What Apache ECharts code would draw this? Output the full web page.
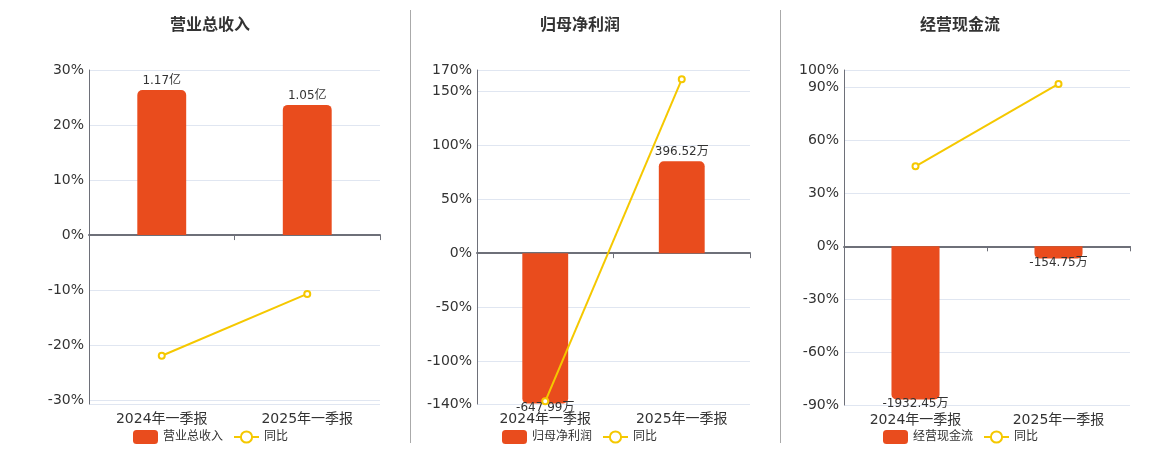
<!DOCTYPE html>
<html>
<head>
<meta charset="utf-8">
<style>
html,body{margin:0;padding:0;background:#fff;}
#c{width:1160px;height:450px;}
</style>
<script src="https://cdn.jsdelivr.net/npm/echarts@6/dist/echarts.min.js"></script>
</head>
<body>
<div id="c"></div>
<script>
const categories = ['2024年一季报', '2025年一季报'];
const titles = ['营业总收入', '归母净利润', '经营现金流'];
const revenue = [1.17, 1.05];            // 亿
const netProfit = [-647.99, 396.52];     // 万
const cashFlow = [-1932.45, -154.75];    // 万
const revenueYoY = [-21.93, -10.7];      // %
const netProfitYoY = [-137.5, 161.4];    // %
const cashFlowYoY = [45.4, 92.1];        // %
const units = ['亿', '万', '万'];
const pctMin = [-30.7, -140, -90];
const pctMax = [30, 170, 100];
const barMax = [1.3314, 790, 2225];

const barSeries = [revenue, netProfit, cashFlow];
const yoySeries = [revenueYoY, netProfitYoY, cashFlowYoY];

const FONT = "'DejaVu Sans', 'Noto Sans CJK SC', sans-serif";
const BAR_COLOR = '#E94C1D';
const LINE_COLOR = '#F5C800';
const AXIS_COLOR = '#6E7079';

const grids = [
  {left: 89, right: 780, top: 70, bottom: 46},
  {left: 477, right: 410, top: 70, bottom: 46},
  {left: 844, right: 30, top: 70, bottom: 45}
];
const centers = [205, 575, 955];
const legendLeft = [128, 497, 878];

const option = {
  animation: false,
  textStyle: {fontFamily: FONT},
  title: [], grid: [], xAxis: [], yAxis: [], series: [], legend: [],
  graphic: [
    {type: 'line', shape: {x1: 410.5, y1: 10, x2: 410.5, y2: 443}, style: {stroke: '#AAAAAA', lineWidth: 1}},
    {type: 'line', shape: {x1: 780.5, y1: 10, x2: 780.5, y2: 443}, style: {stroke: '#AAAAAA', lineWidth: 1}}
  ]
};

for (let i = 0; i < 3; i++) {
  option.title.push({
    text: titles[i], left: centers[i], top: 13, textAlign: 'center',
    textStyle: {fontSize: 16, fontWeight: 'bold', color: '#333', fontFamily: FONT}
  });
  option.grid.push(Object.assign({containLabel: false}, grids[i]));
  // labels axis at bottom
  option.xAxis.push({
    type: 'category', gridIndex: i, data: categories, position: 'bottom',
    axisLine: {show: false, onZero: false}, axisTick: {show: false},
    axisLabel: {fontSize: 14, color: '#333', margin: 8, fontFamily: FONT},
    splitLine: {show: false}
  });
  // zero line axis
  option.xAxis.push({
    type: 'category', gridIndex: i, data: categories, position: 'top',
    axisLine: {show: true, onZero: true, lineStyle: {color: AXIS_COLOR, width: 2}},
    axisTick: {show: true, inside: true, length: 5, lineStyle: {color: AXIS_COLOR}},
    axisLabel: {show: false}, splitLine: {show: false}
  });
  // percent axis
  option.yAxis.push({
    type: 'value', gridIndex: i, position: 'left', min: pctMin[i], max: pctMax[i],
    axisLine: {show: true, lineStyle: {color: AXIS_COLOR, width: 1}},
    axisTick: {show: false},
    axisLabel: {fontSize: 14, color: '#333', margin: 5, fontFamily: FONT,
      formatter: v => Number.isInteger(Math.round(v * 1000) / 1000) ? Math.round(v) + '%' : ''},
    splitLine: {show: true, lineStyle: {color: '#E0E6F1'}}
  });
  // hidden bar axis with zero aligned
  option.yAxis.push({
    type: 'value', gridIndex: i, position: 'right', show: false,
    max: barMax[i], min: barMax[i] * pctMin[i] / pctMax[i],
    splitLine: {show: false}
  });
  const unit = units[i];
  option.series.push({
    name: titles[i], type: 'bar', xAxisIndex: i * 2, yAxisIndex: i * 2 + 1,
    barWidth: '33.6%', itemStyle: {color: BAR_COLOR},
    data: barSeries[i].map(v => ({
      value: v,
      itemStyle: {borderRadius: v >= 0 ? [5, 5, 0, 0] : [0, 0, 5, 5]},
      label: {position: v >= 0 ? 'top' : 'bottom', distance: v >= 0 ? 3 : -2}
    })),
    label: {show: true, fontSize: 12, color: '#333', fontFamily: FONT,
      formatter: p => p.value.toFixed(2) + unit}
  });
  option.series.push({
    name: '同比', type: 'line', xAxisIndex: i * 2, yAxisIndex: i * 2,
    data: yoySeries[i], symbol: 'emptyCircle', symbolSize: 6,
    lineStyle: {color: LINE_COLOR, width: 2},
    itemStyle: {color: LINE_COLOR, borderWidth: 1.5}
  });
  option.legend.push({
    left: legendLeft[i], top: 425, itemWidth: 25, itemHeight: 14, itemGap: 10,
    data: [titles[i], '同比'],
    textStyle: {fontSize: 12, color: '#333', fontFamily: FONT}
  });
}

const chart = echarts.init(document.getElementById('c'), null, {renderer: 'canvas'});
chart.setOption(option);
</script>
</body>
</html>
